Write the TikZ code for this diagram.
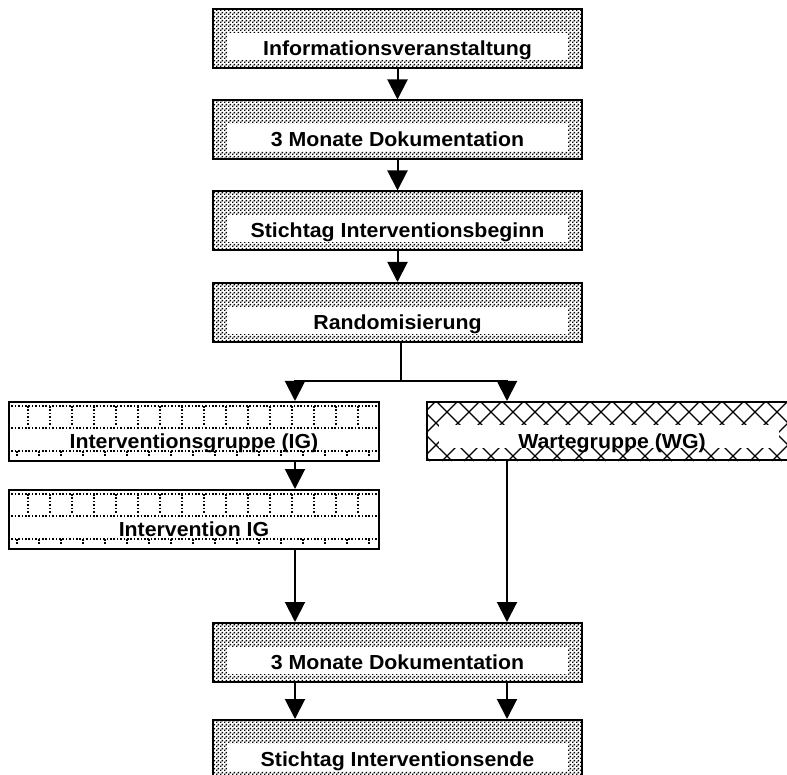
\documentclass[tikz,border=0pt]{standalone}
\usepackage{fontspec}
\setmainfont{Liberation Sans}[FakeStretch=1.05]
\usetikzlibrary{arrows.meta,patterns,backgrounds}
\pgfdeclarepatternformonly{finedots}{\pgfpointorigin}{\pgfpoint{4pt}{4pt}}{\pgfpoint{4pt}{4pt}}{%
  \pgfpathrectangle{\pgfpointorigin}{\pgfpoint{1.8pt}{1.8pt}}%
  \pgfpathrectangle{\pgfpoint{2pt}{2pt}}{\pgfpoint{1.8pt}{1.8pt}}%
  \pgfusepath{fill}}
% brick-like dotted decoration of the IG boxes
\newcommand\IGdeco[1]{%
  \begin{scope}
    \clip (#1.north west) rectangle (#1.south east);
    \fill[white] (#1.north west) rectangle (#1.south east);
    \begin{scope}[shift={(#1.north west)}]
      \draw[dl] (0,5) -- (370,5);
      \draw[dl] (0,27) -- (370,27);
      \draw[dl] (0,50) -- (370,50);
      \foreach \x in {20,42,...,350} \draw[dl] (\x,5) -- (\x,24);
      \foreach \x in {9,31,...,363} \draw[dl] (\x,50) -- (\x,56);
      \fill[white] (16,28) rectangle (354,49);
    \end{scope}
  \end{scope}}
% cross-hatched decoration of the WG box
\newcommand\WGdeco[1]{%
  \begin{scope}
    \clip (#1.north west) rectangle (#1.south east);
    \fill[white] (#1.north west) rectangle (#1.south east);
    \begin{scope}[shift={(#1.north west)}]
      \foreach \c in {-56,-34,...,450} {
        \draw[hatch] (\c,0) -- ++(-60,60);
        \draw[hatch] (\c,0) -- ++(60,60);}
      \fill[white] (13,24) rectangle (353,47);
    \end{scope}
  \end{scope}}
\begin{document}
\begin{tikzpicture}[x=1pt,y=-1pt,
  every node/.style={font=\bfseries\fontsize{20.3}{22}\selectfont, inner sep=0pt,
    text height=34pt, text depth=0pt},
  basebox/.style={draw, line width=2pt, rectangle, minimum height=59pt},
  dotbox/.style={basebox, minimum width=369pt, pattern=finedots,
    path picture={\fill[white] ([shift={(14,24)}]path picture bounding box.north west)
      rectangle ([shift={(-14,-8)}]path picture bounding box.south east);}},
  dl/.style={line width=1.6pt, dash pattern=on 1.6pt off 1.8pt},
  hatch/.style={line width=1.1pt},
  igbox/.style={basebox, minimum width=370pt},
  wgbox/.style={basebox, minimum width=370pt, minimum height=58pt},
  arr/.style={-{Triangle[width=20pt,length=20pt]}, line width=2pt},
  ln/.style={line width=2pt}]
\useasboundingbox (0,0) rectangle (787,775);

\node[dotbox] (n1) at (397.5,39) {Informationsveranstaltung};
\node[dotbox] (n2) at (397.5,130) {3 Monate Dokumentation};
\node[dotbox] (n3) at (397.5,221) {Stichtag Interventionsbeginn};
\node[dotbox] (n4) at (397.5,312.5) {Randomisierung};
\node[igbox] (ig1) at (194,431.5) {Interventionsgruppe (IG)};
\node[igbox] (ig2) at (194,519.5) {Intervention IG};
\node[wgbox] (wg) at (612,431) {Wartegruppe (WG)};
\node[dotbox] (d2) at (397.5,652.5) {3 Monate Dokumentation};
\node[dotbox] (se) at (397.5,749.5) {Stichtag Interventionsende};

\begin{scope}[on background layer]
  \IGdeco{ig1}
  \IGdeco{ig2}
  \WGdeco{wg}
\end{scope}

\coordinate (br) at (401,381);
\coordinate (xl) at (295,0);
\coordinate (xr) at (507,0);

\draw[arr] (n1) -- (n2);
\draw[arr] (n2) -- (n3);
\draw[arr] (n3) -- (n4);
\draw[ln] (n4.south -| br) -- (br);
\draw[arr] (br) -| (xl |- ig1.north);
\draw[arr] (br) -| (xr |- wg.north);
\draw[arr] (xl |- ig1.south) -- (xl |- ig2.north);
\draw[arr] (xl |- ig2.south) -- (xl |- d2.north);
\draw[arr] (xr |- wg.south) -- (xr |- d2.north);
\draw[arr] (xl |- d2.south) -- (xl |- se.north);
\draw[arr] (xr |- d2.south) -- (xr |- se.north);
\end{tikzpicture}
\end{document}
